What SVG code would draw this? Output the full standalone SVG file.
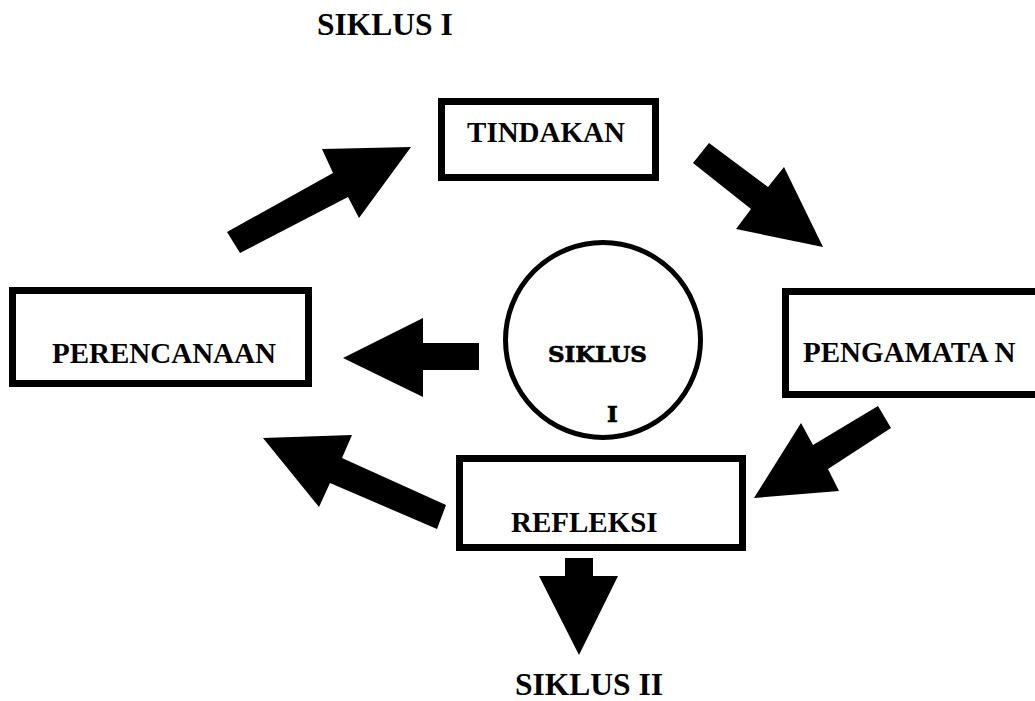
<svg xmlns="http://www.w3.org/2000/svg" width="1035" height="701" viewBox="0 0 1035 701">
<style>
.box{fill:#fff;stroke:#000;stroke-width:7}
.t{font-family:"Liberation Serif","Times New Roman",serif;font-weight:bold;font-size:29px;fill:#000}
.h{font-family:"Liberation Serif","Times New Roman",serif;font-weight:bold;font-size:31.5px;fill:#000}
.c{font-family:"DejaVu Serif",serif;font-weight:bold;font-size:23px;fill:#000;stroke:#000;stroke-width:0.7}
.arr{fill:#000;stroke:none}
</style>
<rect width="1035" height="701" fill="#fff"/>
<text class="h" x="317" y="35">SIKLUS I</text>
<g id="tindakan">
<rect class="box" x="441.5" y="101.5" width="214" height="76"/>
<text class="t" x="546" y="142" text-anchor="middle">TINDAKAN</text>
</g>
<g id="perencanaan">
<rect class="box" x="12.5" y="290.5" width="296" height="93"/>
<text class="t" x="52" y="363">PERENCANAAN</text>
</g>
<g id="pengamatan">
<rect class="box" x="785.5" y="291.5" width="260" height="103"/>
<text class="t" x="803" y="362">PENGAMATA N</text>
</g>
<g id="refleksi">
<rect class="box" x="459.5" y="458.5" width="283" height="89"/>
<text class="t" x="511" y="532">REFLEKSI</text>
</g>
<g id="siklus-center">
<circle cx="603" cy="340" r="97.5" fill="#fff" stroke="#000" stroke-width="5"/>
<text class="c" x="548" y="362">SIKLUS</text>
<text class="c" x="607" y="422">I</text>
</g>
<text class="h" x="515" y="695">SIKLUS II</text>
<g id="connectors">
<polygon class="arr" points="227,232 333,173 322,149 411,147 359,218 348,197 240,253"/>
<polygon class="arr" points="709,143 768,187 784,167 823,247 736,229 751,209 693,163"/>
<polygon class="arr" points="343,358 423,318 423,343 479,343 479,370 423,370 423,397"/>
<polygon class="arr" points="878,406 813,445 801,423 754,498 839,491 828,469 891,428"/>
<polygon class="arr" points="263,438 352,435 342,458 446,505 437,529 330,483 319,507"/>
<polygon class="arr" points="565,558 593,558 593,576 618,576 579,655 539,576 565,576"/>
</g>
</svg>
